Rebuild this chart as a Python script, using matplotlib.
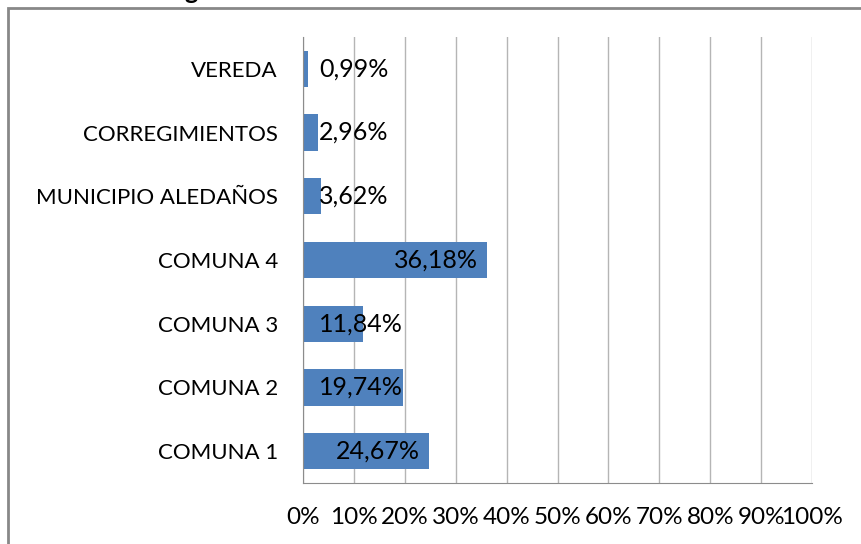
import matplotlib
matplotlib.use("Agg")
import matplotlib.pyplot as plt
from matplotlib.patches import Rectangle
import matplotlib.ticker as mticker

# categories bottom -> top
categories = ["COMUNA 1", "COMUNA 2", "COMUNA 3", "COMUNA 4",
              "MUNICIPIO ALEDAÑOS", "CORREGIMIENTOS", "VEREDA"]
values = [24.67, 19.74, 11.84, 36.18, 3.62, 2.96, 0.99]
x_ticks = list(range(0, 101, 10))

plt.rcParams["font.family"] = ["Lato", "DejaVu Sans"]

W, H = 861, 544
fig = plt.figure(figsize=(W / 100, H / 100), dpi=100)

# chart frame (cut off on the right/bottom)
fig.patches.append(Rectangle((8 / W, -0.1), 1.2, (1 - 8 / H) + 0.1,
                             transform=fig.transFigure, fill=False,
                             edgecolor="#888888", linewidth=2))
# descender of the cropped title
fig.text(184 / W, 1 + 1 / H, "g", fontsize=18, fontweight="bold",
         va="baseline", ha="left")

ax = fig.add_axes([303 / W, 1 - 483 / H, (812 - 303) / W, (483 - 37) / H])

y = range(len(categories))
ax.barh(y, values, height=0.57, color="#4F81BD", zorder=3)

ax.set_xlim(0, 100)
ax.set_ylim(-0.5, len(categories) - 0.5)
ax.set_xticks(x_ticks)
ax.xaxis.set_major_formatter(mticker.FuncFormatter(lambda v, _: f"{v:.0f}%"))
ax.set_yticks(list(y))
ax.set_yticklabels(categories)
ax.tick_params(axis="x", length=0, pad=17, labelsize=17.5)
ax.tick_params(axis="y", length=0, pad=18, labelsize=16)
ax.grid(axis="x", color="#b5b5b5", linewidth=1, zorder=0)
for side in ["top", "right"]:
    ax.spines[side].set_visible(False)
for side in ["left", "bottom"]:
    ax.spines[side].set_color("#8c8c8c")
    ax.spines[side].set_zorder(4)

# data labels: inside end, pushed right when the bar is too short
for yi, v in zip(y, values):
    txt = f"{v:.2f}%".replace(".", ",")
    if v > 21:
        ax.text(v - 1.8, yi, txt, ha="right", va="center", fontsize=18, zorder=5)
    else:
        ax.text(3.2, yi, txt, ha="left", va="center", fontsize=18, zorder=5)

fig.savefig("out.png", dpi=100)
